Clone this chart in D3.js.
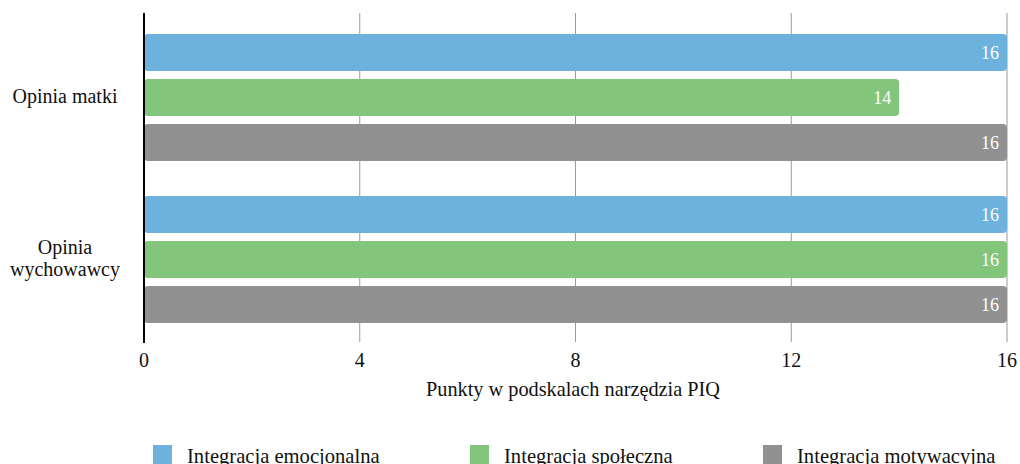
<!DOCTYPE html>
<html>
<head>
<meta charset="utf-8">
<script src="https://cdn.jsdelivr.net/npm/d3@7"></script>
<style>
  body { margin: 0; background: #fff; }
</style>
</head>
<body>
<svg id="chart" width="1020" height="464" font-family="'Liberation Serif', 'Times New Roman', Times, 'DejaVu Serif', serif"></svg>
<script>
// Respondents (y groups) and PIQ subscales (bars inside each group)
const categories = [["Opinia matki"], ["Opinia", "wychowawcy"]];
const series = ["Integracja emocjonalna", "Integracja społeczna", "Integracja motywacyjna"];
const emocjonalna = [16, 16];
const spoleczna = [14, 16];
const motywacyjna = [16, 16];
const xTicks = [0, 4, 8, 12, 16];
const xTitle = "Punkty w podskalach narzędzia PIQ";
const colors = ["#6db1dd", "#83c57b", "#919191"];

const values = [emocjonalna, spoleczna, motywacyjna];
const svg = d3.select("#chart");

const x = d3.scaleLinear().domain([0, 16]).range([144, 1007]);
const groupKeys = categories.map((c, i) => i);
const y0 = d3.scaleBand().domain(groupKeys).range([16.5, 340.5]).padding(0);
const y1 = d3.scaleBand().domain(series).range([0, y0.bandwidth()])
  .paddingInner(0.178).paddingOuter(0.389);

// vertical gridlines with their tick stubs
svg.append("g").selectAll("line").data(xTicks.filter(t => t > 0)).join("line")
  .attr("x1", d => x(d)).attr("x2", d => x(d))
  .attr("y1", 13).attr("y2", 342)
  .attr("stroke", "#9a9a9a").attr("stroke-width", 1);

// bars
const g = svg.append("g");
groupKeys.forEach(gi => {
  series.forEach((s, si) => {
    const v = values[si][gi];
    const yy = y0(gi) + y1(s);
    g.append("rect")
      .attr("x", x(0)).attr("y", yy)
      .attr("width", x(v) - x(0)).attr("height", y1.bandwidth())
      .attr("rx", 4).attr("ry", 4)
      .attr("fill", colors[si]);
    g.append("text")
      .attr("x", x(v) - 8).attr("y", yy + y1.bandwidth() / 2)
      .attr("dy", "0.35em").attr("text-anchor", "end")
      .attr("fill", "#fff").attr("font-size", 18)
      .text(v);
  });
});

// y axis line
svg.append("line").attr("x1", 144).attr("x2", 144).attr("y1", 13).attr("y2", 343)
  .attr("stroke", "#000").attr("stroke-width", 2);

// x tick labels
svg.append("g").selectAll("text").data(xTicks).join("text")
  .attr("x", d => x(d)).attr("y", 367)
  .attr("text-anchor", "middle").attr("font-size", 20).attr("fill", "#111")
  .text(d => d);

// x axis title
svg.append("text").attr("x", 573).attr("y", 396)
  .attr("text-anchor", "middle").attr("font-size", 20.3).attr("fill", "#111")
  .text(xTitle);

// category labels
groupKeys.forEach(gi => {
  const lines = categories[gi];
  const cy = y0(gi) + y0.bandwidth() / 2;
  const lh = 22;
  lines.forEach((ln, li) => {
    svg.append("text")
      .attr("x", 65).attr("y", cy + (li - (lines.length - 1) / 2) * lh)
      .attr("dy", "0.25em").attr("text-anchor", "middle")
      .attr("font-size", 20).attr("fill", "#111")
      .text(ln);
  });
});

// legend
const legendX = [153, 470, 763];
series.forEach((s, i) => {
  svg.append("rect").attr("x", legendX[i]).attr("y", 445).attr("width", 19).attr("height", 19)
    .attr("fill", colors[i]);
  svg.append("text").attr("x", legendX[i] + 34).attr("y", 462.5)
    .attr("font-size", 20.6).attr("fill", "#111").text(s);
});
</script>
</body>
</html>
